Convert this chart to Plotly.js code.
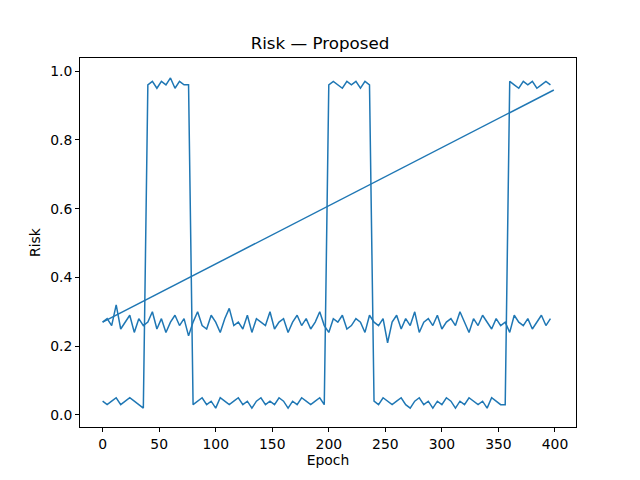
<!DOCTYPE html>
<html><head><script src="https://cdn.plot.ly/plotly-3.0.1.min.js"></script></head>
<body style="margin:0"><div id="chart" style="width:640px;height:480px"></div>
<script>
// risk values sampled every 4 epochs
var step = 4;
var baseRisk = [0.27,0.28,0.26,0.32,0.25,0.27,0.29,0.24,0.28,0.26,0.27,0.30,0.25,0.28,0.24,0.27,0.29,0.26,0.28,0.23,
  0.27,0.30,0.26,0.25,0.29,0.27,0.24,0.28,0.31,0.26,0.27,0.25,0.29,0.24,0.28,0.27,0.26,0.30,0.25,0.27,
  0.28,0.24,0.27,0.29,0.26,0.28,0.25,0.27,0.30,0.26,0.24,0.28,0.27,0.29,0.25,0.26,0.28,0.27,0.24,0.29,
  0.27,0.26,0.28,0.21,0.27,0.29,0.25,0.28,0.26,0.30,0.24,0.27,0.28,0.26,0.29,0.25,0.27,0.28,0.26,0.30,
  0.27,0.24,0.28,0.26,0.29,0.27,0.25,0.28,0.26,0.27,0.24,0.29,0.27,0.26,0.28,0.25,0.27,0.29,0.26,0.28];
var switchRisk = [0.04,0.03,0.04,0.05,0.03,0.04,0.05,0.04,0.03,0.02,
  0.96,0.97,0.95,0.97,0.96,0.98,0.95,0.97,0.96,0.96,
  0.03,0.04,0.05,0.03,0.04,0.02,0.05,0.04,0.03,0.04,0.05,0.03,0.04,0.02,0.04,0.05,0.03,0.04,0.03,0.05,0.04,0.02,0.04,0.03,0.05,0.04,0.03,0.04,0.05,0.03,
  0.96,0.97,0.96,0.95,0.97,0.96,0.97,0.95,0.97,0.96,
  0.04,0.03,0.05,0.04,0.03,0.04,0.05,0.03,0.02,0.04,0.05,0.03,0.04,0.02,0.04,0.03,0.05,0.04,0.02,0.04,0.03,0.05,0.04,0.03,0.04,0.02,0.05,0.04,0.03,0.03,
  0.97,0.96,0.95,0.97,0.96,0.97,0.95,0.96,0.97,0.96];
var trendEpoch = [0, 399];
var trendRisk = [0.27, 0.945];

var epochs = baseRisk.map(function(v, i){ return i * step; });
var color = '#1f77b4';
function line(x, y){ return {x: x, y: y, mode: 'lines', line: {color: color, width: 1.5}, type: 'scatter'}; }

var data = [line(epochs, baseRisk), line(epochs, switchRisk), line(trendEpoch, trendRisk)];
var ax = {showgrid: false, zeroline: false, showline: true, mirror: true, linecolor: '#000', linewidth: 1,
  ticks: 'outside', ticklen: 4, tickcolor: '#000', tickfont: {size: 13.9, color: '#000'}};
var layout = {
  width: 640, height: 480, showlegend: false,
  font: {family: 'DejaVu Sans', color: '#000'},
  paper_bgcolor: '#fff', plot_bgcolor: '#fff',
  margin: {l: 80, r: 64, t: 58, b: 53},
  title: {text: 'Risk — Proposed', font: {size: 16.7}, x: 0.5, xanchor: 'center', y: 0.91, yanchor: 'middle'},
  xaxis: Object.assign({}, ax, {range: [-20, 418.6], tickvals: [0,50,100,150,200,250,300,350,400], title: {text: 'Epoch', font: {size: 13.9}, standoff: 4}}),
  yaxis: Object.assign({}, ax, {range: [-0.035, 1.038], tickvals: [0,0.2,0.4,0.6,0.8,1.0], ticktext: ['0.0','0.2','0.4','0.6','0.8','1.0'], title: {text: 'Risk', font: {size: 13.9}, standoff: 6}})
};
Plotly.newPlot('chart', data, layout, {displayModeBar: false});
</script></body></html>
